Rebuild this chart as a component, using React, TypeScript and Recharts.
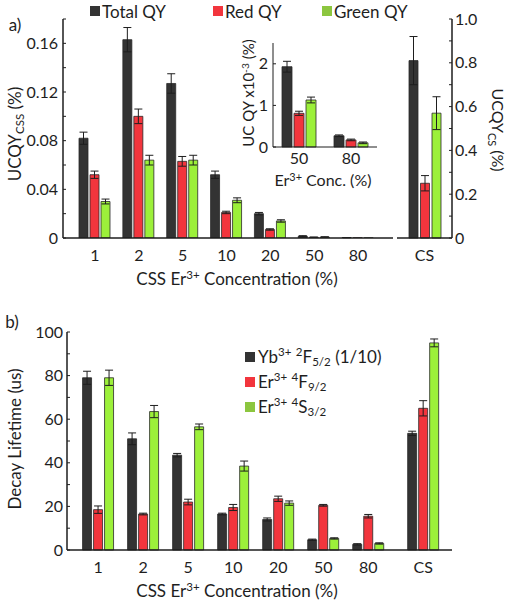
import React from "react";
import { BarChart, Bar, XAxis, YAxis, ErrorBar } from "recharts";

// panel a) CSS series
const A_CATS = ["1", "2", "5", "10", "20", "50", "80"];
const A_TOTAL = [0.082, 0.163, 0.127, 0.052, 0.02, 0.0015, 0.0003];
const A_TOTAL_ERR = [0.005, 0.01, 0.008, 0.003, 0.001, 0.0004, 0.0001];
const A_RED = [0.052, 0.1, 0.063, 0.021, 0.007, 0.0006, 0.0002];
const A_RED_ERR = [0.003, 0.006, 0.004, 0.001, 0.0006, 0.0002, 0];
const A_GREEN = [0.03, 0.064, 0.064, 0.031, 0.014, 0.0008, 0.0001];
const A_GREEN_ERR = [0.002, 0.004, 0.004, 0.002, 0.001, 0.0002, 0];
const A_TICKS = [0, 0.02, 0.04, 0.06, 0.08, 0.1, 0.12, 0.14, 0.16, 0.18];
const A_TICK_LABELS = ["0", "", "0.04", "", "0.08", "", "0.12", "", "0.16", ""];

// inset (x10^-3)
const IN_CATS = ["50", "80"];
const IN_TOTAL = [1.93, 0.27];
const IN_TOTAL_ERR = [0.13, 0.02];
const IN_RED = [0.81, 0.17];
const IN_RED_ERR = [0.05, 0.02];
const IN_GREEN = [1.13, 0.1];
const IN_GREEN_ERR = [0.07, 0.02];
const IN_TICKS = [0, 1, 2];

// CS panel
const CS_CATS = ["CS"];
const CS_TOTAL = [0.81];
const CS_TOTAL_ERR = [0.11];
const CS_RED = [0.25];
const CS_RED_ERR = [0.035];
const CS_GREEN = [0.57];
const CS_GREEN_ERR = [0.075];
const CS_TICKS = [0, 0.1, 0.2, 0.3, 0.4, 0.5, 0.6, 0.7, 0.8, 0.9, 1.0];
const CS_TICK_LABELS = ["0", "", "0.2", "", "0.4", "", "0.6", "", "0.8", "", "1.0"];

// panel b) lifetimes
const B_CATS = ["1", "2", "5", "10", "20", "50", "80", "CS"];
const B_POS = [1, 2, 3, 4, 5, 6, 7, 8.22];
const B_YB = [79, 51, 43.5, 16.5, 14, 4.7, 2.6, 53.5];
const B_YB_ERR = [3, 2.7, 0.8, 0.4, 0.7, 0.3, 0.3, 1];
const B_RED = [18.5, 16.5, 22, 19.5, 23.5, 20.5, 15.5, 65];
const B_RED_ERR = [1.7, 0.4, 1.3, 1.4, 1.2, 0.4, 0.8, 3.5];
const B_GREEN = [79, 63.5, 56.5, 38.5, 21.5, 5.3, 3, 95];
const B_GREEN_ERR = [3.5, 2.8, 1.3, 2.3, 1, 0.3, 0.3, 1.8];
const B_TICKS = [0, 10, 20, 30, 40, 50, 60, 70, 80, 90, 100];
const B_TICK_LABELS = ["0", "", "20", "", "40", "", "60", "", "80", "", "100"];

const DARK = "#333333";
const RED = "#f2353d";
const GREEN = "#9cf03a";
const LEG_GREEN = "#8cc63f";
const EDGE = "#2a2a2a";
const INK = "#1e1e1e";

const triple = (cats, t, te, r, re, g, ge) =>
  cats.map((c, i) => ({
    cat: c,
    total: t[i],
    totalErr: te[i],
    red: r[i],
    redErr: re[i],
    green: g[i],
    greenErr: ge[i],
  }));

const aData = triple(A_CATS, A_TOTAL, A_TOTAL_ERR, A_RED, A_RED_ERR, A_GREEN, A_GREEN_ERR);
const inData = triple(IN_CATS, IN_TOTAL, IN_TOTAL_ERR, IN_RED, IN_RED_ERR, IN_GREEN, IN_GREEN_ERR);
const csData = triple(CS_CATS, CS_TOTAL, CS_TOTAL_ERR, CS_RED, CS_RED_ERR, CS_GREEN, CS_GREEN_ERR);
const bData = B_CATS.map((c, i) => ({
  cat: c,
  x: B_POS[i],
  total: B_YB[i],
  totalErr: B_YB_ERR[i],
  red: B_RED[i],
  redErr: B_RED_ERR[i],
  green: B_GREEN[i],
  greenErr: B_GREEN_ERR[i],
}));

const tickStyle = { fill: INK, fontSize: 16 };

function bars(errW: number) {
  return [
    <Bar key="t" dataKey="total" fill={DARK} stroke={EDGE} strokeWidth={0.8} isAnimationActive={false}>
      <ErrorBar dataKey="totalErr" width={errW} stroke={INK} strokeWidth={1} direction="y" />
    </Bar>,
    <Bar key="r" dataKey="red" fill={RED} stroke={EDGE} strokeWidth={0.8} isAnimationActive={false}>
      <ErrorBar dataKey="redErr" width={errW} stroke={INK} strokeWidth={1} direction="y" />
    </Bar>,
    <Bar key="g" dataKey="green" fill={GREEN} stroke={EDGE} strokeWidth={0.8} isAnimationActive={false}>
      <ErrorBar dataKey="greenErr" width={errW} stroke={INK} strokeWidth={1} direction="y" />
    </Bar>,
  ];
}

function Txt({ x, y, rot = 0, size = 16, children }) {
  return (
    <div
      style={{
        position: "absolute",
        left: x,
        top: y,
        transform: `translate(-50%, -50%) rotate(${rot}deg)`,
        whiteSpace: "nowrap",
        lineHeight: 1,
        fontSize: size,
        color: INK,
      }}
    >
      {children}
    </div>
  );
}

const Sup = ({ children }) => (
  <span style={{ fontSize: "0.68em", verticalAlign: "0.55em" }}>{children}</span>
);
const Sub = ({ children }) => (
  <span style={{ fontSize: "0.68em", verticalAlign: "-0.3em" }}>{children}</span>
);

function Swatch({ x, y, color }) {
  return (
    <div
      style={{
        position: "absolute",
        left: x,
        top: y,
        width: 10,
        height: 10,
        background: color,
      }}
    />
  );
}

function LegText({ x, y, children }) {
  return (
    <div
      style={{
        position: "absolute",
        left: x,
        top: y,
        transform: "translateY(-50%)",
        whiteSpace: "nowrap",
        lineHeight: 1,
        fontSize: 17,
        color: INK,
      }}
    >
      {children}
    </div>
  );
}

export default function App() {
  return (
    <div
      style={{
        position: "absolute",
        left: 0,
        top: 0,
        width: 508,
        height: 600,
        background: "#fff",
        fontFamily: "Lato, 'Open Sans', sans-serif",
        overflow: "hidden",
      }}
    >
      {/* a) main CSS chart */}
      <div style={{ position: "absolute", left: 0, top: 0 }}>
        <BarChart
          width={400}
          height={300}
          data={aData}
          margin={{ top: 19, right: 7, bottom: 0, left: 0 }}
          barSize={9}
          barGap={2}
        >
          <XAxis
            dataKey="cat"
            height={62}
            padding={{ left: 10, right: 13 }}
            tick={tickStyle}
            tickLine={false}
            tickMargin={6}
            axisLine={{ stroke: INK, strokeWidth: 1.5 }}
            interval={0}
          />
          <XAxis xAxisId="top" orientation="top" dataKey="cat" height={0} tick={false} tickLine={false} axisLine={{ stroke: INK, strokeWidth: 1.5 }} />
          <YAxis
            width={63}
            domain={[0, 0.18]}
            ticks={A_TICKS}
            interval={0}
            tick={tickStyle}
            tickSize={-3}
            tickMargin={8}
            tickLine={{ stroke: INK }}
            tickFormatter={(v, i) => A_TICK_LABELS[i]}
            axisLine={{ stroke: INK, strokeWidth: 1.5 }}
            allowDataOverflow
          />
          <YAxis
            yAxisId="r"
            orientation="right"
            width={0}
            domain={[0, 0.18]}
            ticks={A_TICKS}
            interval={0}
            tickSize={-3}
            tickLine={{ stroke: INK }}
            tickFormatter={() => ""}
            axisLine={{ stroke: INK, strokeWidth: 1.5 }}
          />
          {bars(4)}
        </BarChart>
      </div>

      {/* inset */}
      <div style={{ position: "absolute", left: 240, top: 30 }}>
        <BarChart
          width={145}
          height={160}
          data={inData}
          margin={{ top: 13, right: 8, bottom: 0, left: 0 }}
          barSize={10}
          barGap={2}
        >
          <XAxis
            dataKey="cat"
            height={43}
            tick={tickStyle}
            tickLine={false}
            tickMargin={0}
            axisLine={{ stroke: INK, strokeWidth: 1 }}
            interval={0}
          />
          <XAxis xAxisId="top" orientation="top" dataKey="cat" height={0} tick={false} tickLine={false} axisLine={{ stroke: INK, strokeWidth: 1 }} />
          <YAxis
            width={33}
            domain={[0, 2.5]}
            ticks={IN_TICKS}
            interval={0}
            tick={tickStyle}
            tickSize={-3}
            tickMargin={8}
            tickLine={{ stroke: INK }}
            axisLine={{ stroke: INK, strokeWidth: 1 }}
          />
          <YAxis yAxisId="r" orientation="right" width={0} domain={[0, 2.5]} tick={false} tickLine={false} axisLine={{ stroke: INK, strokeWidth: 1 }} />
          {bars(4)}
        </BarChart>
      </div>

      {/* CS chart */}
      <div style={{ position: "absolute", left: 390, top: 0 }}>
        <BarChart
          width={118}
          height={300}
          data={csData}
          margin={{ top: 19, right: 0, bottom: 0, left: 7 }}
          barSize={9}
          barGap={2.5}
        >
          <XAxis
            dataKey="cat"
            height={62}
            tick={tickStyle}
            tickLine={false}
            tickMargin={6}
            axisLine={{ stroke: INK, strokeWidth: 1.5 }}
          />
          <XAxis xAxisId="top" orientation="top" dataKey="cat" height={0} tick={false} tickLine={false} axisLine={{ stroke: INK, strokeWidth: 1.5 }} />
          <YAxis
            orientation="right"
            width={56}
            domain={[0, 1]}
            ticks={CS_TICKS}
            interval={0}
            tick={tickStyle}
            tickSize={-3}
            tickMargin={6}
            tickLine={{ stroke: INK }}
            tickFormatter={(v, i) => CS_TICK_LABELS[i]}
            axisLine={{ stroke: INK, strokeWidth: 1.5 }}
          />
          <YAxis
            yAxisId="l"
            orientation="left"
            width={0}
            domain={[0, 1]}
            ticks={CS_TICKS}
            interval={0}
            tickSize={-3}
            tickLine={{ stroke: INK }}
            tickFormatter={() => ""}
            axisLine={{ stroke: INK, strokeWidth: 1.5 }}
          />
          {bars(4)}
        </BarChart>
      </div>

      {/* b) lifetimes */}
      <div style={{ position: "absolute", left: 0, top: 300 }}>
        <BarChart
          width={508}
          height={300}
          data={bData}
          margin={{ top: 32, right: 56, bottom: 0, left: 0 }}
          barSize={9}
          barGap={2}
        >
          <XAxis
            dataKey="x"
            type="number"
            domain={[0.31, 8.86]}
            ticks={B_POS}
            interval={0}
            height={50}
            tick={tickStyle}
            tickLine={false}
            tickMargin={6}
            tickFormatter={(v, i) => B_CATS[i]}
            axisLine={{ stroke: INK, strokeWidth: 1.5 }}
            allowDataOverflow
          />
          <XAxis xAxisId="top" orientation="top" dataKey="x" type="number" domain={[0.31, 8.86]} height={0} tick={false} tickLine={false} axisLine={{ stroke: INK, strokeWidth: 1.5 }} />
          <YAxis
            width={67}
            domain={[0, 100]}
            ticks={B_TICKS}
            interval={0}
            tick={tickStyle}
            tickSize={-3}
            tickMargin={7}
            tickLine={{ stroke: INK }}
            tickFormatter={(v, i) => B_TICK_LABELS[i]}
            axisLine={{ stroke: INK, strokeWidth: 1.5 }}
          />
          <YAxis
            yAxisId="r"
            orientation="right"
            width={0}
            domain={[0, 100]}
            ticks={B_TICKS}
            interval={0}
            tickSize={-3}
            tickLine={{ stroke: INK }}
            tickFormatter={() => ""}
            axisLine={{ stroke: INK, strokeWidth: 1.5 }}
          />
          {bars(4)}
        </BarChart>
      </div>

      {/* panel a texts */}
      <Txt x={15} y={24} size={17}>a)</Txt>
      <Swatch x={90} y={6} color={DARK} />
      <LegText x={102} y={11}>Total QY</LegText>
      <Swatch x={213} y={6} color={RED} />
      <LegText x={225} y={11}>Red QY</LegText>
      <Swatch x={322} y={6} color={LEG_GREEN} />
      <LegText x={334} y={11}>Green QY</LegText>
      <Txt x={16} y={134} rot={-90} size={17}>
        UCQY<Sub>CSS</Sub> (%)
      </Txt>
      <Txt x={496} y={130} rot={90} size={16}>
        UCQY<Sub>CS</Sub> (%)
      </Txt>
      <Txt x={248} y={93} rot={-90} size={15}>
        UC QY x10<Sup>-3</Sup> (%)
      </Txt>
      <Txt x={323} y={180} size={16}>
        Er<Sup>3+</Sup> Conc. (%)
      </Txt>
      <Txt x={237} y={278} size={17}>
        CSS Er<Sup>3+</Sup> Concentration (%)
      </Txt>

      {/* panel b texts */}
      <Txt x={12} y={321} size={17}>b)</Txt>
      <Txt x={14} y={439} rot={-90} size={17}>
        Decay Lifetime (us)
      </Txt>
      <Txt x={237} y={590} size={17}>
        CSS Er<Sup>3+</Sup> Concentration (%)
      </Txt>
      <Swatch x={245} y={352} color={DARK} />
      <LegText x={258} y={357}>
        Yb<Sup>3+</Sup> <Sup>2</Sup>F<Sub>5/2</Sub> (1/10)
      </LegText>
      <Swatch x={245} y={377} color={RED} />
      <LegText x={258} y={382}>
        Er<Sup>3+</Sup> <Sup>4</Sup>F<Sub>9/2</Sub>
      </LegText>
      <Swatch x={245} y={402} color={LEG_GREEN} />
      <LegText x={258} y={407}>
        Er<Sup>3+</Sup> <Sup>4</Sup>S<Sub>3/2</Sub>
      </LegText>
    </div>
  );
}
